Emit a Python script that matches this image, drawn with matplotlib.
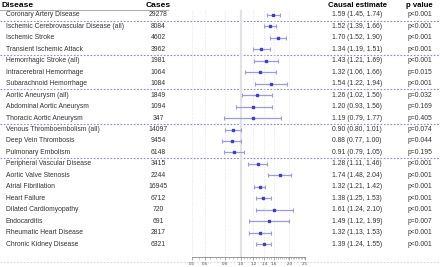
import numpy as np
import matplotlib
matplotlib.use("Agg")
import matplotlib.pyplot as plt
from matplotlib.ticker import FixedLocator, NullFormatter

plt.rcParams['font.family'] = ['Liberation Sans', 'DejaVu Sans']

# data
diseases = ["Coronary Artery Disease", "Ischemic Cerebrovascular Disease (all)",
            "Ischemic Stroke", "Transient Ischemic Attack", "Hemorrhagic Stroke (all)",
            "Intracerebral Hemorrhage", "Subarachnoid Hemorrhage", "Aortic Aneurysm (all)",
            "Abdominal Aortic Aneurysm", "Thoracic Aortic Aneurysm",
            "Venous Thromboembolism (all)", "Deep Vein Thrombosis", "Pulmonary Embolism",
            "Peripheral Vascular Disease", "Aortic Valve Stenosis", "Atrial Fibrillation",
            "Heart Failure", "Dilated Cardiomyopathy", "Endocarditis",
            "Rheumatic Heart Disease", "Chronic Kidney Disease"]
cases = [29278, 8084, 4602, 3962, 1981, 1064, 1084, 1849, 1094, 347,
         14097, 9454, 6148, 3415, 2244, 16945, 6712, 720, 691, 2817, 6321]
est = [1.59, 1.52, 1.70, 1.34, 1.43, 1.32, 1.54, 1.26, 1.20, 1.19,
       0.90, 0.88, 0.91, 1.28, 1.74, 1.32, 1.38, 1.61, 1.49, 1.32, 1.39]
lo = [1.45, 1.39, 1.52, 1.19, 1.21, 1.06, 1.22, 1.02, 0.93, 0.79,
      0.80, 0.77, 0.79, 1.11, 1.48, 1.21, 1.25, 1.24, 1.12, 1.13, 1.24]
hi = [1.74, 1.66, 1.90, 1.51, 1.69, 1.66, 1.94, 1.56, 1.56, 1.77,
      1.01, 1.00, 1.05, 1.46, 2.04, 1.42, 1.53, 2.10, 1.99, 1.53, 1.55]
pvals = ["p<0.001", "p<0.001", "p<0.001", "p<0.001", "p<0.001", "p=0.015", "p<0.001",
         "p=0.032", "p=0.169", "p=0.405", "p=0.074", "p=0.044", "p=0.195",
         "p<0.001", "p<0.001", "p<0.001", "p<0.001", "p<0.001", "p=0.007",
         "p<0.001", "p<0.001"]
group_ends = [0, 3, 6, 9, 12]
ticks = [0.5, 0.6, 0.8, 1.0, 1.2, 1.4, 1.6, 2.0, 2.5]

W, H = 440, 267
y0, dy = 15.0, 11.45  # pixel y of first row, row spacing


def row_of(py):
    return (py - y0) / dy


fig = plt.figure(figsize=(W / 100, H / 100), dpi=100)

# table layer covering the whole figure
tab = fig.add_axes([0, 0, 1, 1])
tab.set_xlim(0, W)
tab.set_ylim(row_of(H), row_of(0))
tab.axis('off')

hfs = 6.0
bfs = 4.9
hy = row_of(5.5)
tab.text(1, hy, "Disease", fontsize=hfs, fontweight='bold', va='center', ha='left')
tab.text(158, hy, "Cases", fontsize=hfs, fontweight='bold', va='center', ha='center')
tab.text(357, hy, "Causal estimate", fontsize=hfs - 0.4, fontweight='bold', va='center', ha='center')
tab.text(419, hy, "p value", fontsize=hfs - 0.4, fontweight='bold', va='center', ha='center')
tab.plot([0, 168], [row_of(9.5)] * 2, color='#b0b0b0', lw=0.8)

txt_c = '#333333'
for i, d in enumerate(diseases):
    tab.text(6, i, d, fontsize=bfs, va='center', ha='left', color=txt_c)
    tab.text(158, i, str(cases[i]), fontsize=bfs, va='center', ha='center', color=txt_c)
    tab.text(357, i, f"{est[i]:.2f} ({lo[i]:.2f}, {hi[i]:.2f})", fontsize=bfs,
             va='center', ha='center', color=txt_c)
    tab.text(420, i, pvals[i], fontsize=bfs, va='center', ha='center', color=txt_c)

for g in group_ends:
    tab.plot([0, W], [g + 0.5] * 2, color='#8a8ac8', lw=0.8, ls=(0, (1.5, 1.5)))
tab.plot([0, W], [row_of(262)] * 2, color='#d8d8d8', lw=0.8, ls=(0, (1.5, 1.5)))

# forest plot
left, right, top, bot = 192, 305, 10, 257
ax = fig.add_axes([left / W, 1 - bot / H, (right - left) / W, (bot - top) / H])
ax.patch.set_alpha(0)
ax.set_xscale('log')
ax.set_xlim(0.5, 2.5)
ax.set_ylim(row_of(bot), row_of(top))
for t in ticks:
    if t == 1.0:
        ax.axvline(t, color='#e2e2e2', lw=1.5, zorder=0)
    else:
        ax.axvline(t, color='#dcdcdc', lw=0.5, ls=(0, (1.5, 2)), zorder=0)

ys = np.arange(len(diseases))
est_a = np.array(est)
err = [est_a - np.array(lo), np.array(hi) - est_a]
ax.errorbar(est_a, ys, xerr=err, fmt='s', ms=2, color='#3b3bdc', ecolor='#9a9ae6',
            elinewidth=0.9, capsize=1.5, capthick=0.8)

for s in ['top', 'right', 'left']:
    ax.spines[s].set_visible(False)
ax.spines['bottom'].set_color('#888888')
ax.spines['bottom'].set_linewidth(0.6)
ax.set_yticks([])
ax.xaxis.set_major_locator(FixedLocator(ticks))
ax.set_xticklabels([f"{t:.1f}" for t in ticks])
ax.xaxis.set_minor_locator(FixedLocator(np.arange(0.5, 2.51, 0.05)))
ax.xaxis.set_minor_formatter(NullFormatter())
ax.tick_params(axis='x', which='major', labelsize=3.2, length=2, width=0.5,
               color='#888888', pad=1.5, labelcolor='#444444')
ax.tick_params(axis='x', which='minor', length=1.2, width=0.4, color='#999999')

fig.savefig("out.png", dpi=100)
